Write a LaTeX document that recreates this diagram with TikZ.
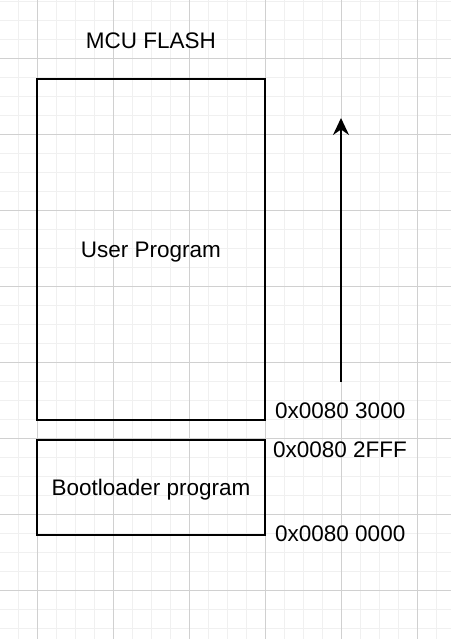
\documentclass[tikz,border=0pt]{standalone}
\usepackage{fontspec}
\setmainfont{Liberation Sans}
\usetikzlibrary{arrows.meta, positioning}

\definecolor{minorline}{RGB}{240,240,240}
\definecolor{majorline}{RGB}{208,208,208}

\tikzset{
  memblock/.style={draw, line width=1.5pt, minimum width=228pt, inner sep=0pt, text depth=0pt},
  addr/.style={anchor=west, inner sep=0pt},
}

\begin{document}
\begin{tikzpicture}[x=1pt, y=-1pt, >=Stealth, font=\fontsize{22.5}{27}\selectfont]
				\useasboundingbox (0,0) rectangle (451,639);
				% Griglia
				\foreach \x in {18.3,37.3,...,440} \draw[minorline, line width=1pt] (\x,0) -- (\x,639);
				\foreach \y in {1.3,20.3,...,639} \draw[minorline, line width=1pt] (0,\y) -- (451,\y);
				\foreach \x in {37.3,113.3,...,440} \draw[majorline, line width=1pt] (\x,0) -- (\x,639);
				\foreach \y in {58.3,134.3,...,639} \draw[majorline, line width=1pt] (0,\y) -- (451,\y);

				% Memoria
				\node (title) at (151,40.3) {MCU FLASH};
				\node[memblock, minimum height=341pt] (user) at (151,249.5) {User Program};
				\node[memblock, minimum height=95pt] (boot) at (151,487.5) {Bootloader program};

				\node[addr] (a3000) at (275,411) {0x0080 3000};
				\node[addr] (a2fff) at (273,450) {0x0080 2FFF};
				\node[addr] (a0000) at (275,534) {0x0080 0000};

				\coordinate (growstart) at (341,382);
				\coordinate (growend) at (341,118);
				\draw[-{Stealth[length=17pt, width=16pt]}, line width=1.5pt] (growstart) -- (growend);
			\end{tikzpicture}
\end{document}
